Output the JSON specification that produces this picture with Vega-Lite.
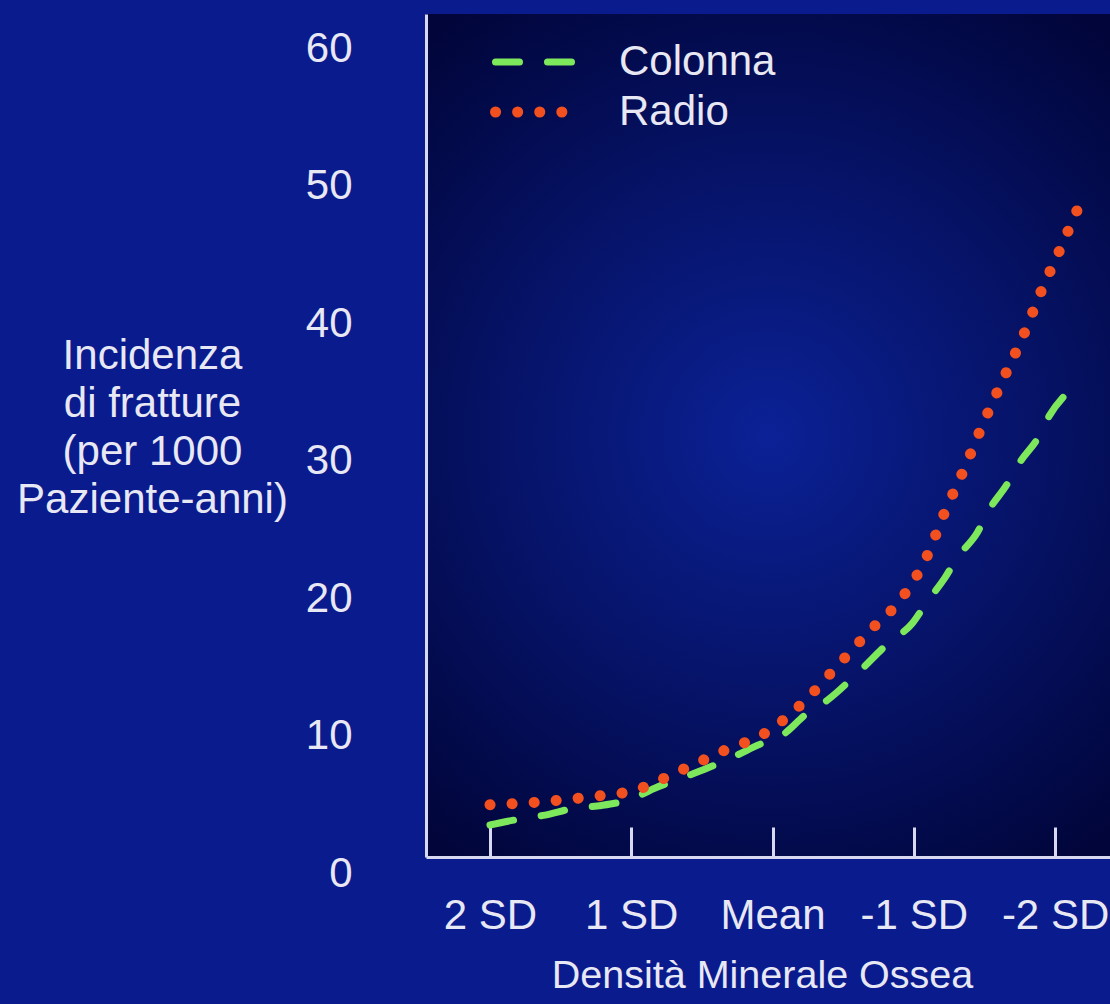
{
  "$schema": "https://vega.github.io/schema/vega-lite/v6.json",
  "width": 684,
  "height": 843,
  "autosize": {"type": "none"},
  "padding": {"left": 426, "top": 14, "right": 0, "bottom": 147},
  "background": "#0a1b8e",
  "view": {
    "stroke": null,
    "fill": {"gradient": "radial", "x1": 0.5, "y1": 0.5, "r1": 0, "x2": 0.5, "y2": 0.5, "r2": 0.62,
      "stops": [{"offset": 0, "color": "#0b2196"}, {"offset": 1, "color": "#01053a"}]}
  },
  "data": {"values": [
    {"serie": "Colonna", "sd": 2.0, "incidenza": 2.33},
    {"serie": "Colonna", "sd": 1.79, "incidenza": 2.76},
    {"serie": "Colonna", "sd": 1.61, "incidenza": 3.05},
    {"serie": "Colonna", "sd": 1.4, "incidenza": 3.56},
    {"serie": "Colonna", "sd": 1.21, "incidenza": 3.75},
    {"serie": "Colonna", "sd": 1.0, "incidenza": 4.22},
    {"serie": "Colonna", "sd": 0.83, "incidenza": 5.02},
    {"serie": "Colonna", "sd": 0.64, "incidenza": 5.75},
    {"serie": "Colonna", "sd": 0.46, "incidenza": 6.47},
    {"serie": "Colonna", "sd": 0.28, "incidenza": 7.27},
    {"serie": "Colonna", "sd": 0.1, "incidenza": 8.15},
    {"serie": "Colonna", "sd": -0.09, "incidenza": 9.02},
    {"serie": "Colonna", "sd": -0.23, "incidenza": 10.33},
    {"serie": "Colonna", "sd": -0.39, "incidenza": 11.42},
    {"serie": "Colonna", "sd": -0.61, "incidenza": 13.45},
    {"serie": "Colonna", "sd": -0.82, "incidenza": 15.56},
    {"serie": "Colonna", "sd": -0.99, "incidenza": 17.0},
    {"serie": "Colonna", "sd": -1.09, "incidenza": 18.5},
    {"serie": "Colonna", "sd": -1.22, "incidenza": 20.3},
    {"serie": "Colonna", "sd": -1.31, "incidenza": 21.8},
    {"serie": "Colonna", "sd": -1.45, "incidenza": 23.6},
    {"serie": "Colonna", "sd": -1.53, "incidenza": 25.2},
    {"serie": "Colonna", "sd": -1.66, "incidenza": 27.1},
    {"serie": "Colonna", "sd": -1.75, "incidenza": 28.7},
    {"serie": "Colonna", "sd": -1.88, "incidenza": 30.5},
    {"serie": "Colonna", "sd": -1.96, "incidenza": 32.1},
    {"serie": "Colonna", "sd": -2.09, "incidenza": 33.8},
    {"serie": "Radio", "sd": 2.0, "incidenza": 3.8},
    {"serie": "Radio", "sd": 1.65, "incidenza": 4.0},
    {"serie": "Radio", "sd": 1.31, "incidenza": 4.36},
    {"serie": "Radio", "sd": 0.97, "incidenza": 4.87},
    {"serie": "Radio", "sd": 0.66, "incidenza": 6.25},
    {"serie": "Radio", "sd": 0.35, "incidenza": 7.71},
    {"serie": "Radio", "sd": 0.04, "incidenza": 9.09},
    {"serie": "Radio", "sd": -0.22, "incidenza": 11.27},
    {"serie": "Radio", "sd": -0.45, "incidenza": 13.8},
    {"serie": "Radio", "sd": -0.68, "incidenza": 16.36},
    {"serie": "Radio", "sd": -0.92, "incidenza": 18.9},
    {"serie": "Radio", "sd": -1.09, "incidenza": 21.8},
    {"serie": "Radio", "sd": -1.22, "incidenza": 25.1},
    {"serie": "Radio", "sd": -1.36, "incidenza": 28.3},
    {"serie": "Radio", "sd": -1.49, "incidenza": 31.5},
    {"serie": "Radio", "sd": -1.63, "incidenza": 34.7},
    {"serie": "Radio", "sd": -1.77, "incidenza": 37.8},
    {"serie": "Radio", "sd": -1.9, "incidenza": 41.1},
    {"serie": "Radio", "sd": -2.04, "incidenza": 44.3},
    {"serie": "Radio", "sd": -2.18, "incidenza": 47.6}
  ]},
  "mark": {"type": "line", "strokeCap": "round", "interpolate": "monotone"},
  "encoding": {
    "x": {
      "field": "sd", "type": "quantitative",
      "scale": {"domain": [-2.389, 2.453], "reverse": true, "nice": false, "zero": false},
      "axis": {
        "values": [2, 1, 0, -1, -2],
        "labelExpr": "datum.value == 0 ? 'Mean' : datum.value + ' SD'",
        "grid": false,
        "domainColor": "#d8d8f0", "domainWidth": 3,
        "tickColor": "#d8d8f0", "tickWidth": 3, "tickSize": -30,
        "labelFont": "Liberation Sans", "labelFontSize": 42, "labelColor": "#e8e8f4",
        "labelPadding": 88, "labelBaseline": "middle", "labelFlush": false, "labelOverlap": false,
        "title": "Densità Minerale Ossea",
        "titleFont": "Liberation Sans", "titleFontSize": 39.5, "titleFontWeight": "normal", "titleColor": "#e8e8f4",
        "titleX": 336, "titleY": 118, "titleAlign": "center", "titleBaseline": "middle"
      }
    },
    "y": {
      "field": "incidenza", "type": "quantitative",
      "scale": {"domain": [0, 61.31], "nice": false, "zero": false},
      "axis": {
        "values": [0, 10, 20, 30, 40, 50, 60],
        "grid": false, "ticks": false,
        "domainColor": "#d8d8f0", "domainWidth": 3,
        "labelFont": "Liberation Sans", "labelFontSize": 42, "labelColor": "#e8e8f4",
        "labelPadding": 74, "labelOffset": 16, "labelFlush": false, "labelOverlap": false,
        "title": ["Incidenza", "di  fratture", "(per 1000", "Paziente-anni)"],
        "titleFont": "Liberation Sans", "titleFontSize": 42, "titleFontWeight": "normal", "titleColor": "#e8e8f4",
        "titleAngle": 0, "titleX": -274, "titleY": 341, "titleAlign": "center", "titleBaseline": "middle",
        "titleLineHeight": 48
      }
    },
    "color": {
      "field": "serie", "type": "nominal",
      "scale": {"domain": ["Colonna", "Radio"], "range": ["#7ee85c", "#f2501f"]},
      "legend": {
        "title": null, "orient": "none", "legendX": 64, "legendY": 28,
        "symbolType": "stroke", "symbolSize": 7744,
        "labelFont": "Liberation Sans", "labelFontSize": 42, "labelColor": "#e8e8f4",
        "labelOffset": 30, "clipHeight": 40, "rowPadding": 8, "padding": 0,
        "encode": {"symbols": {"update": {"strokeCap": {"value": "round"}}}}
      }
    },
    "strokeDash": {
      "field": "serie", "type": "nominal",
      "scale": {"domain": ["Colonna", "Radio"], "range": [[24, 28], [0.1, 22]]},
      "legend": {
        "title": null, "orient": "none", "legendX": 64, "legendY": 28,
        "symbolType": "stroke", "symbolSize": 7744,
        "labelFont": "Liberation Sans", "labelFontSize": 42, "labelColor": "#e8e8f4",
        "labelOffset": 30, "clipHeight": 40, "rowPadding": 8, "padding": 0,
        "encode": {"symbols": {"update": {"strokeCap": {"value": "round"}}}}
      }
    },
    "strokeWidth": {
      "field": "serie", "type": "nominal",
      "scale": {"domain": ["Colonna", "Radio"], "range": [7, 11]},
      "legend": {
        "title": null, "orient": "none", "legendX": 64, "legendY": 28,
        "symbolType": "stroke", "symbolSize": 7744,
        "labelFont": "Liberation Sans", "labelFontSize": 42, "labelColor": "#e8e8f4",
        "labelOffset": 30, "clipHeight": 40, "rowPadding": 8, "padding": 0,
        "encode": {"symbols": {"update": {"strokeCap": {"value": "round"}}}}
      }
    }
  }
}
